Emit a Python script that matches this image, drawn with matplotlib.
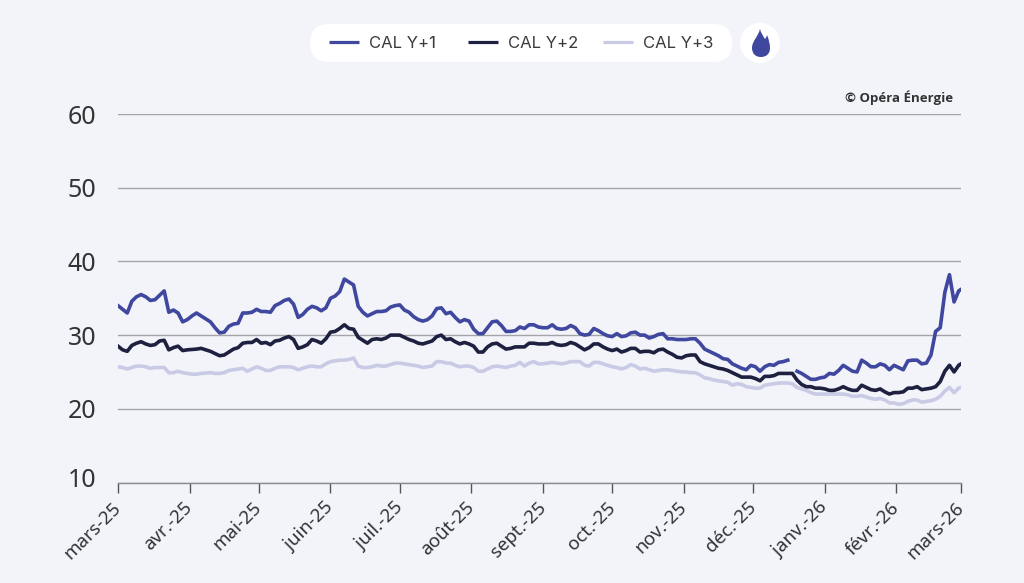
import numpy as np
import pandas as pd
import matplotlib
matplotlib.use('Agg')
import matplotlib.pyplot as plt
from matplotlib.patches import FancyBboxPatch, Circle, PathPatch
from matplotlib.path import Path
from matplotlib.transforms import ScaledTranslation

# one value every 2 days from 1 March 2025, then the last one on 1 March 2026
dates = pd.date_range('2025-03-01', periods=183, freq='2D').append(pd.DatetimeIndex(['2026-03-01']))

cal_y1 = [
    34.0, 33.5, 33.0, 34.6, 35.2, 35.5, 35.2, 34.7, 34.8, 35.4,
    36.0, 33.1, 33.4, 33.0, 31.8, 32.1, 32.6, 33.0, 32.6, 32.2,
    31.8, 31.0, 30.3, 30.4, 31.2, 31.5, 31.6, 33.0, 33.0, 33.1,
    33.5, 33.2, 33.2, 33.1, 34.0, 34.3, 34.7, 34.9, 34.2, 32.4,
    32.8, 33.5, 33.9, 33.7, 33.3, 33.7, 35.0, 35.3, 35.9, 37.6,
    37.2, 36.8, 33.9, 33.1, 32.6, 32.9, 33.2, 33.2, 33.3, 33.8,
    34.0, 34.1, 33.4, 33.1, 32.5, 32.1, 31.9, 32.1, 32.6, 33.6,
    33.7, 32.9, 33.1, 32.4, 31.8, 32.1, 31.9, 30.8, 30.2, 30.2,
    31.0, 31.8, 31.9, 31.3, 30.5, 30.5, 30.6, 31.1, 30.9, 31.4,
    31.4, 31.1, 31.0, 31.0, 31.4, 30.9, 30.8, 30.9, 31.3, 31.0,
    30.2, 30.0, 30.1, 30.9, 30.6, 30.2, 29.9, 29.8, 30.2, 29.8,
    29.9, 30.3, 30.4, 30.0, 30.0, 29.6, 29.8, 30.1, 30.2, 29.5,
    29.5, 29.4, 29.4, 29.4, 29.5, 29.5, 28.9, 28.1, 27.8, 27.5,
    27.2, 26.8, 26.7, 26.1, 25.8, 25.5, 25.3, 25.9, 25.7, 25.1,
    25.7, 26.0, 25.9, 26.3, 26.4, 26.6, np.nan, 25.1, 24.8, 24.4,
    24.0, 24.0, 24.2, 24.3, 24.8, 24.7, 25.2, 25.9, 25.5, 25.1,
    25.0, 26.6, 26.2, 25.7, 25.7, 26.1, 25.9, 25.3, 25.9, 25.6,
    25.3, 26.5, 26.6, 26.6, 26.1, 26.2, 27.3, 30.5, 31.0, 35.8,
    38.2, 34.5, 36.0, 36.2,
]
cal_y2 = [
    28.5, 28.0, 27.8, 28.6, 28.9, 29.1, 28.8, 28.6, 28.7, 29.2,
    29.3, 28.0, 28.3, 28.5, 27.9, 28.0, 28.05, 28.1, 28.2, 28.0,
    27.8, 27.5, 27.2, 27.3, 27.7, 28.1, 28.3, 28.9, 29.0, 29.0,
    29.4, 28.9, 29.0, 28.7, 29.2, 29.3, 29.6, 29.8, 29.4, 28.2,
    28.4, 28.7, 29.4, 29.2, 28.9, 29.5, 30.4, 30.5, 30.9, 31.4,
    30.9, 30.8, 29.7, 29.3, 28.9, 29.4, 29.5, 29.4, 29.6, 30.0,
    30.0, 30.0, 29.7, 29.4, 29.2, 28.9, 28.8, 29.0, 29.2, 29.8,
    30.0, 29.4, 29.5, 29.1, 28.8, 29.0, 28.8, 28.5, 27.7, 27.7,
    28.4, 28.8, 28.9, 28.5, 28.1, 28.2, 28.4, 28.4, 28.4, 28.9,
    28.9, 28.8, 28.8, 28.8, 29.0, 28.7, 28.6, 28.7, 29.0, 28.8,
    28.4, 28.0, 28.3, 28.8, 28.8, 28.4, 28.1, 27.9, 28.1, 27.7,
    27.9, 28.2, 28.2, 27.7, 27.8, 27.8, 27.6, 28.0, 28.1, 27.7,
    27.4, 27.0, 26.9, 27.2, 27.3, 27.3, 26.4, 26.1, 25.9, 25.7,
    25.5, 25.4, 25.2, 24.9, 24.6, 24.3, 24.3, 24.3, 24.1, 23.8,
    24.4, 24.4, 24.5, 24.8, 24.8, 24.8, 24.8, 23.9, 23.3, 23.0,
    23.0, 22.8, 22.8, 22.7, 22.5, 22.5, 22.7, 23.0, 22.7, 22.5,
    22.5, 23.2, 22.9, 22.6, 22.5, 22.7, 22.3, 22.0, 22.2, 22.2,
    22.3, 22.8, 22.8, 23.0, 22.6, 22.7, 22.8, 23.0, 23.7, 25.1,
    25.9, 25.0, 25.9, 26.1,
]
cal_y3 = [
    25.7, 25.6, 25.4, 25.6, 25.8, 25.8, 25.7, 25.5, 25.6, 25.6,
    25.6, 24.9, 24.9, 25.1, 24.9, 24.8, 24.7, 24.7, 24.8, 24.85,
    24.9, 24.8, 24.8, 24.9, 25.2, 25.3, 25.4, 25.5, 25.1, 25.4,
    25.7, 25.5, 25.2, 25.2, 25.5, 25.7, 25.7, 25.7, 25.6, 25.3,
    25.5, 25.7, 25.8, 25.7, 25.7, 26.1, 26.4, 26.5, 26.6, 26.6,
    26.7, 26.9, 25.8, 25.6, 25.6, 25.7, 25.9, 25.8, 25.8, 26.0,
    26.2, 26.2, 26.1, 26.0, 25.9, 25.8, 25.6, 25.7, 25.8, 26.4,
    26.4, 26.2, 26.2, 25.9, 25.7, 25.8, 25.8, 25.6, 25.1, 25.1,
    25.4, 25.7, 25.8, 25.7, 25.6, 25.8, 25.9, 26.3, 25.8, 26.2,
    26.4, 26.1, 26.1, 26.2, 26.3, 26.2, 26.1, 26.2, 26.4, 26.4,
    26.4, 25.9, 25.8, 26.3, 26.3, 26.1, 25.9, 25.7, 25.6, 25.4,
    25.6, 26.0, 25.8, 25.4, 25.5, 25.3, 25.1, 25.2, 25.3, 25.3,
    25.2, 25.1, 25.0, 25.0, 24.9, 24.9, 24.6, 24.2, 24.1, 23.9,
    23.8, 23.7, 23.6, 23.2, 23.4, 23.3, 23.0, 22.9, 22.8, 22.8,
    23.2, 23.3, 23.4, 23.5, 23.5, 23.5, 23.4, 22.9, 22.7, 22.5,
    22.2, 22.0, 22.0, 22.0, 22.0, 22.0, 22.0, 22.0, 21.9, 21.7,
    21.7, 21.8, 21.6, 21.4, 21.3, 21.4, 21.2, 20.8, 20.8, 20.6,
    20.7, 21.0, 21.2, 21.2, 20.9, 21.0, 21.1, 21.3, 21.7, 22.4,
    22.9, 22.2, 22.8, 22.9,
]
month_labels = ['mars-25', 'avr.-25', 'mai-25', 'juin-25', 'juil.-25', 'août-25', 'sept.-25',
                'oct.-25', 'nov.-25', 'déc.-25', 'janv.-26', 'févr.-26', 'mars-26']
y_ticks = [10, 20, 30, 40, 50, 60]
series_names = ['CAL Y+1', 'CAL Y+2', 'CAL Y+3']
series_colors = ['#3f479e', '#1e2040', '#c9cbe6']

bg = '#f2f4f9'
plt.rcParams['font.family'] = ['Noto Sans', 'DejaVu Sans']

fig = plt.figure(figsize=(10.24, 5.83), dpi=100, facecolor=bg)
W, H = 1024, 583
ax = fig.add_axes([118 / W, 1 - 482.5 / H, (961 - 118) / W, (482.5 - 114) / H], facecolor=bg)

# light one first so the darker lines sit on top
for vals, col in zip([cal_y3, cal_y2, cal_y1], series_colors[::-1]):
    ax.plot(dates, vals, color=col, lw=2.6, solid_joinstyle='round', zorder=3)

ax.set_xlim(dates[0], dates[-1])
ax.set_ylim(10, 60)
ax.set_yticks(y_ticks)
ax.tick_params(axis='y', length=0, labelsize=18, labelcolor='#333333', pad=15.5)
ax.grid(axis='y', color='#a3a3a8', lw=1, zorder=1)
ax.set_xticks(pd.date_range('2025-03-01', '2026-03-01', freq='MS'))
ax.set_xticklabels(month_labels, rotation=45, ha='right', va='center', rotation_mode='anchor',
                   fontsize=13.5, color='#333333')
ax.tick_params(axis='x', length=7, width=1, color='#555555', pad=9)
for s in ['top', 'left', 'right']:
    ax.spines[s].set_visible(False)
ax.spines['bottom'].set_color('#8a8a8f')
ax.spines['bottom'].set_linewidth(1)

# the 10 label sits a little above the axis line
lab10 = ax.get_yticklabels()[0]
lab10.set_transform(lab10.get_transform() + ScaledTranslation(0, 5 / 100, fig.dpi_scale_trans))

# legend and badge in pixel coordinates
over = fig.add_axes([0, 0, 1, 1], facecolor='none')
over.set_xlim(0, W)
over.set_ylim(H, 0)
over.axis('off')
over.add_patch(FancyBboxPatch((310, 24), 422, 38, boxstyle='round,pad=0,rounding_size=19', fc='white', ec='none'))
over.add_patch(Circle((760, 43), 20, fc='white', ec='none'))
for name, col, x0, tx in zip(series_names, series_colors, [329, 468, 603], [369, 508, 643]):
    over.plot([x0, x0 + 30], [42, 42], color=col, lw=2.3, solid_capstyle='butt')
    over.text(tx, 43, name, fontsize=12, color='#3a3a3a', va='center', ha='left',
              family=['Inter', 'DejaVu Sans'])

flame = Path(
    [(760, 29), (761, 33), (763, 36), (765, 39), (766, 38), (766.5, 37), (767, 35),
     (769, 40), (770, 44), (770, 48), (770, 54), (766, 57), (761, 57),
     (755, 57), (752, 53), (752, 48), (752, 41), (758, 37), (760, 29)],
    [Path.MOVETO] + [Path.CURVE4] * 18)
over.add_patch(PathPatch(flame, fc='#3f479e', ec='none'))

over.text(953, 98, '© Opéra Énergie', fontsize=9.5, fontweight='bold', color='#333333', ha='right', va='center',
          family=['Open Sans', 'DejaVu Sans'])

fig.savefig('out.png', dpi=100, facecolor=bg)
